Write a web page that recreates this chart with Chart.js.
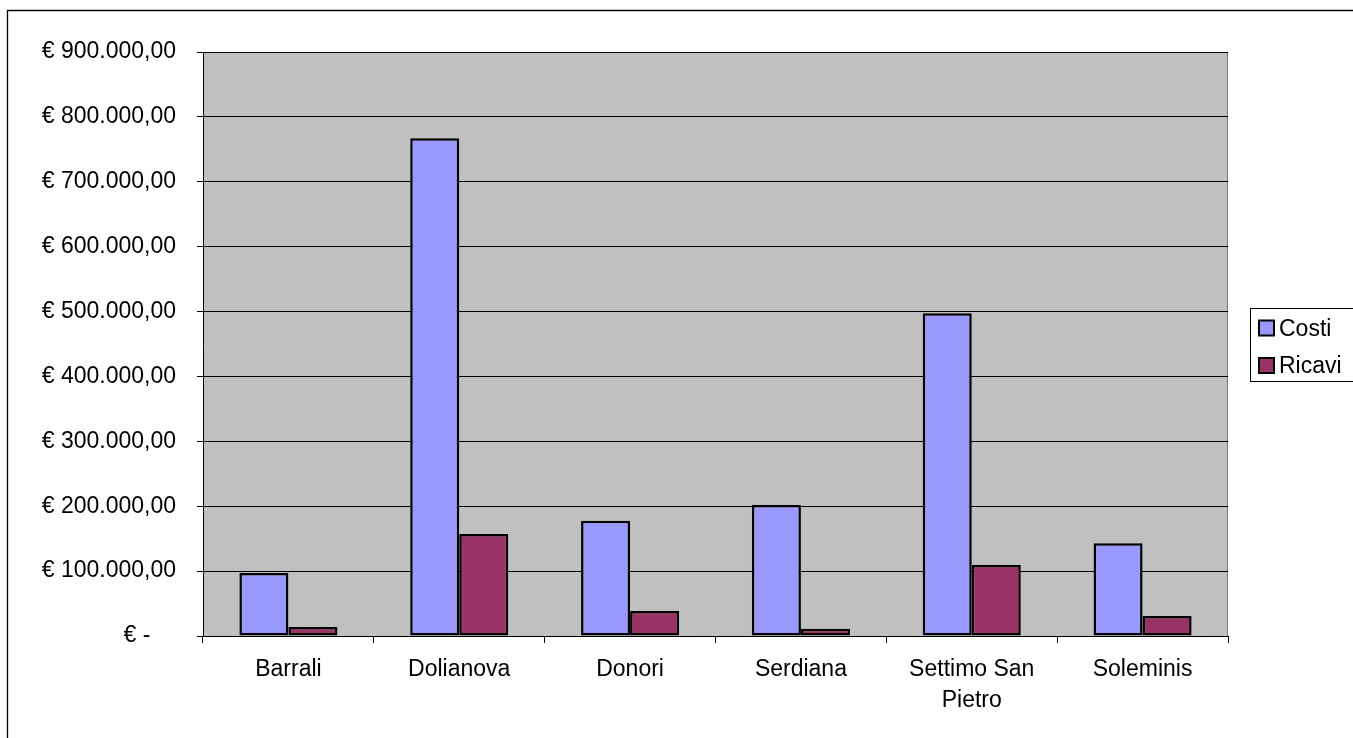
<!DOCTYPE html>
<html>
<head>
<meta charset="utf-8">
<script src="https://cdn.jsdelivr.net/npm/chart.js@4/dist/chart.umd.min.js"></script>
<style>
  html, body { margin: 0; padding: 0; background: #fff; }
  #wrap { width: 1353px; height: 738px; position: relative; }
</style>
</head>
<body>
<div id="wrap"><canvas id="c" width="1353" height="738"></canvas></div>
<script>
const categories = ['Barrali', 'Dolianova', 'Donori', 'Serdiana', ['Settimo San', 'Pietro'], 'Soleminis'];
const seriesNames = ['Costi', 'Ricavi'];
const costi = [97000, 767000, 177500, 202000, 497500, 143000];
const ricavi = [14000, 157000, 38500, 11000, 109500, 31000];
const yTickValues = [0, 100000, 200000, 300000, 400000, 500000, 600000, 700000, 800000, 900000];
const yTickLabels = ['€ -', '€ 100.000,00', '€ 200.000,00', '€ 300.000,00', '€ 400.000,00',
                     '€ 500.000,00', '€ 600.000,00', '€ 700.000,00', '€ 800.000,00', '€ 900.000,00'];
const seriesColors = ['#9999FF', '#993366'];

const FONT = "'Liberation Sans', Arial, sans-serif";

const framePlugin = {
  id: 'frame',
  beforeDraw(chart) {
    const ctx = chart.ctx;
    const a = chart.chartArea;
    ctx.save();
    ctx.fillStyle = '#ffffff';
    ctx.fillRect(0, 0, chart.width, chart.height);
    // outer chart border (left & top visible)
    ctx.strokeStyle = '#000';
    ctx.lineWidth = 1.3;
    ctx.beginPath();
    ctx.moveTo(7.5, chart.height + 2);
    ctx.lineTo(7.5, 10.5);
    ctx.lineTo(chart.width + 2, 10.5);
    ctx.stroke();
    // plot area background
    ctx.fillStyle = '#C0C0C0';
    ctx.fillRect(a.left, a.top, a.right - a.left, a.bottom - a.top);
    ctx.strokeStyle = '#808080';
    ctx.lineWidth = 1;
    ctx.strokeRect(Math.round(a.left) + 0.5, Math.round(a.top) + 0.5,
                   Math.round(a.right - a.left) - 1, Math.round(a.bottom - a.top));
    ctx.restore();
  },
  afterDraw(chart) {
    // legend
    const ctx = chart.ctx;
    const lx = chart.chartArea.right + 22;
    const ly = 308;
    ctx.save();
    ctx.strokeStyle = '#000';
    ctx.lineWidth = 1;
    ctx.strokeRect(lx + 0.5, ly + 0.5, 120, 73);
    ctx.font = '23px ' + FONT;
    ctx.textBaseline = 'alphabetic';
    ctx.textAlign = 'left';
    chart.data.datasets.forEach((ds, i) => {
      const sy = ly + 12.5 + i * 37.5;
      ctx.fillStyle = ds.backgroundColor;
      ctx.fillRect(lx + 9, sy, 15, 15);
      ctx.strokeStyle = '#000';
      ctx.lineWidth = 2;
      ctx.strokeRect(lx + 9, sy, 15, 15);
      ctx.fillStyle = '#000';
      ctx.fillText(ds.label, lx + 29, sy + 15);
    });
    ctx.restore();
  }
};

new Chart(document.getElementById('c'), {
  type: 'bar',
  data: {
    labels: categories,
    datasets: [
      { label: seriesNames[0], data: costi, backgroundColor: seriesColors[0] },
      { label: seriesNames[1], data: ricavi, backgroundColor: seriesColors[1] }
    ]
  },
  options: {
    responsive: false,
    animation: false,
    devicePixelRatio: 1,
    layout: { padding: { top: 52, right: 125, bottom: 0, left: 0 } },
    datasets: {
      bar: {
        borderColor: '#000',
        borderWidth: 2.5,
        borderSkipped: false,
        categoryPercentage: 0.574,
        barPercentage: 1
      }
    },
    plugins: {
      legend: { display: false },
      tooltip: { enabled: false }
    },
    scales: {
      x: {
        offset: true,
        grid: {
          drawOnChartArea: false,
          drawTicks: true,
          tickLength: 7,
          color: '#000',
          offset: true
        },
        border: { display: true, color: '#000', width: 1 },
        ticks: {
          color: '#000',
          padding: 11,
          maxRotation: 0,
          autoSkip: false,
          font: { family: FONT, size: 23, lineHeight: 1.35 }
        },
        afterFit(scale) { scale.height = 102; }
      },
      y: {
        min: 0,
        max: 900000,
        afterBuildTicks(scale) {
          scale.ticks = yTickValues.map(v => ({ value: v }));
        },
        grid: {
          color: '#000',
          tickColor: '#000',
          lineWidth: 1,
          drawTicks: true,
          tickLength: 6
        },
        border: { display: true, color: '#000', width: 1 },
        ticks: {
          color: '#000',
          padding: 21,
          font: { family: FONT, size: 23 },
          callback(value) {
            const i = yTickValues.indexOf(value);
            const lbl = i >= 0 ? yTickLabels[i] : '';
            return value === 0 ? lbl + '\u00a0\u00a0\u00a0\u00a0' : lbl;
          }
        },
        afterFit(scale) { scale.width = 203; }
      }
    }
  },
  plugins: [framePlugin]
});
</script>
</body>
</html>
